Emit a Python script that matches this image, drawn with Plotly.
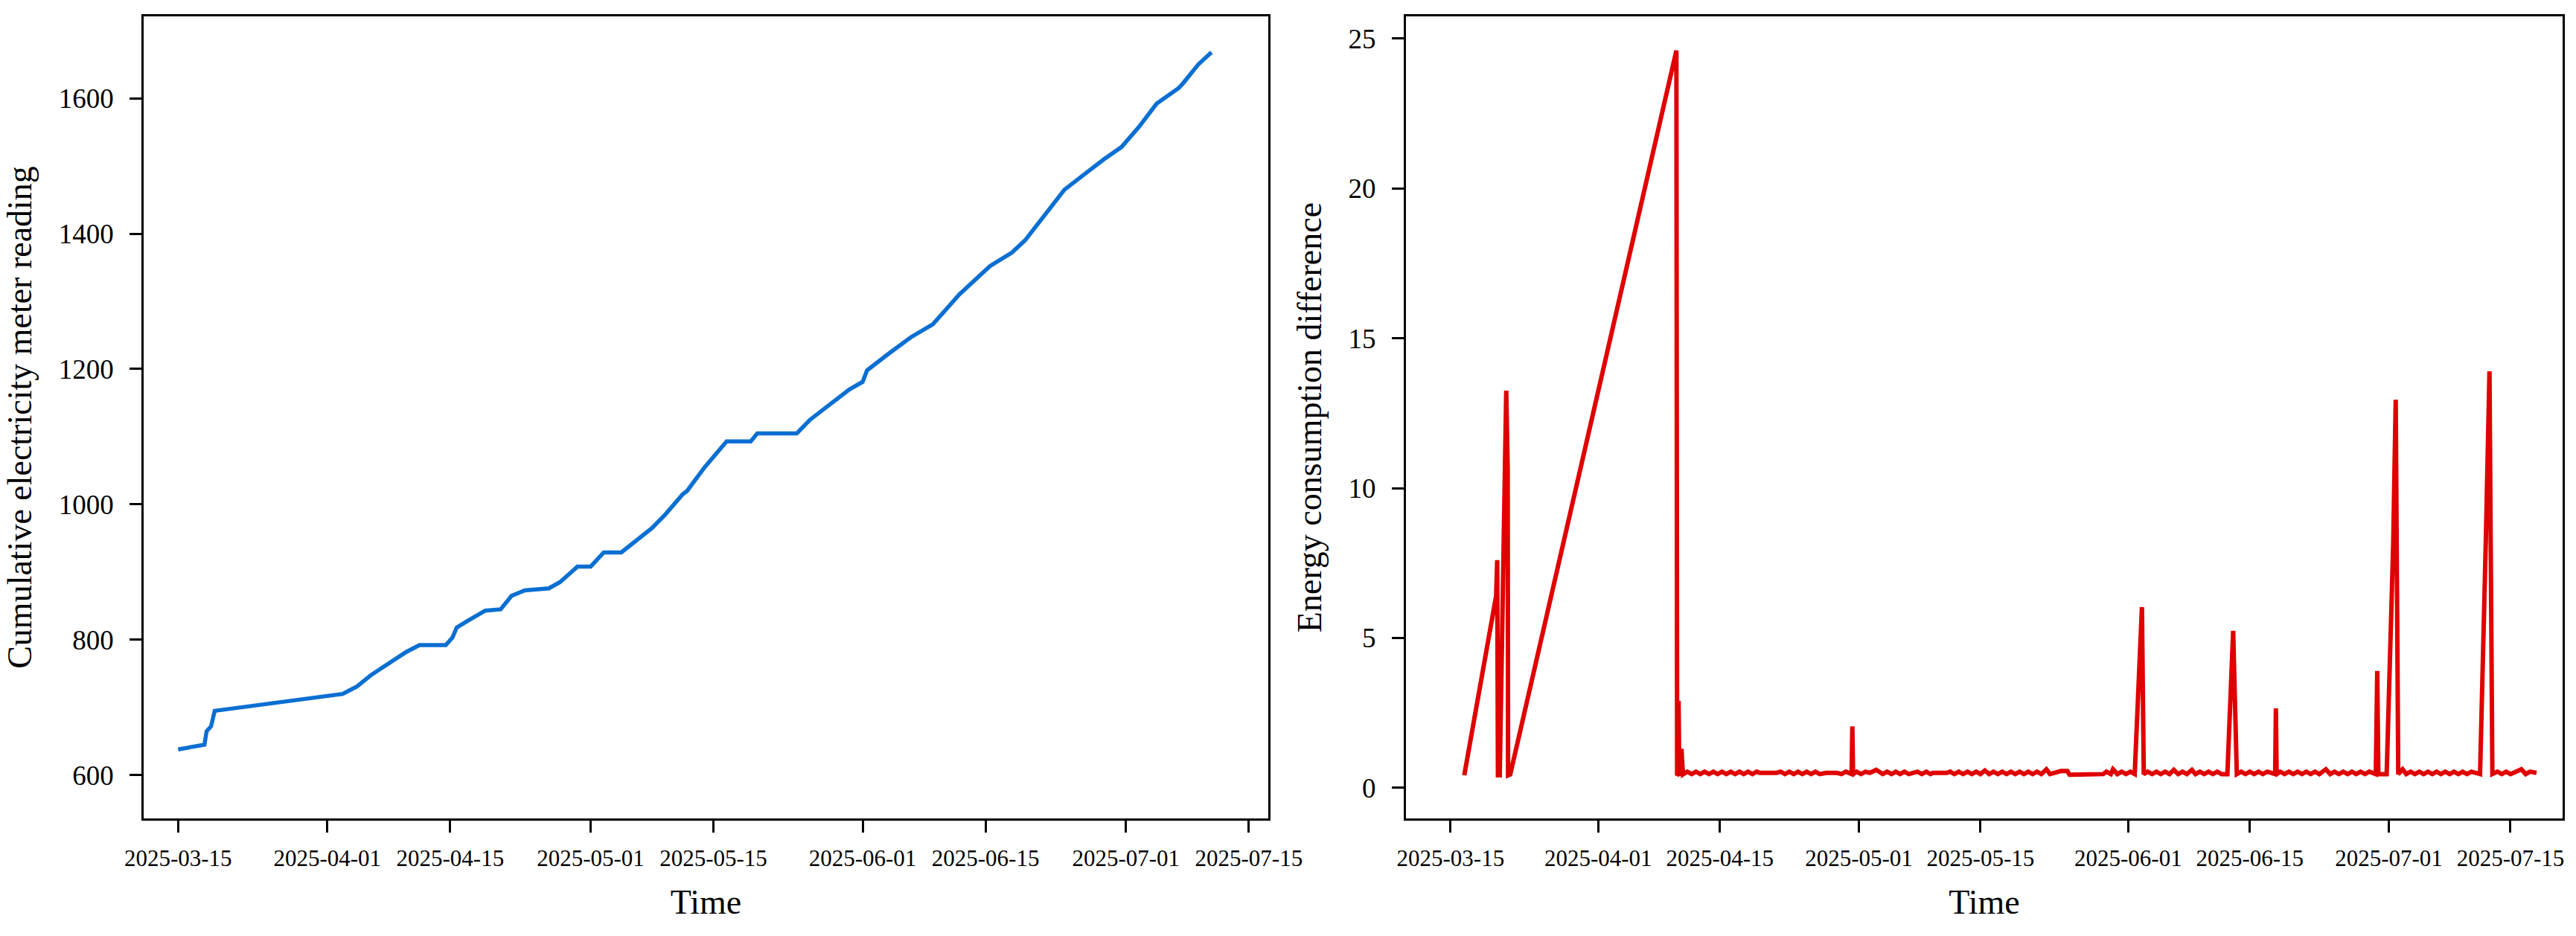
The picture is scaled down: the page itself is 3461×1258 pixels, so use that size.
import pandas as pd
import plotly.graph_objects as go

# ---- left panel: cumulative meter reading ----
meter_times = [
    "03-15 00", "03-18 00", "03-18 06", "03-18 18", "03-19 04", "04-02 18",
    "04-03 12", "04-04 09", "04-06 00", "04-08 00", "04-10 00", "04-11 12",
    "04-14 12", "04-15 06", "04-15 18", "04-17 00", "04-19 00", "04-20 18",
    "04-22 00", "04-23 12", "04-26 06", "04-27 12", "04-28 12", "04-29 12",
    "05-01 00", "05-02 12", "05-04 12", "05-06 12", "05-08 00", "05-09 12",
    "05-11 12", "05-12 00", "05-14 00", "05-16 12", "05-19 06", "05-20 00",
    "05-24 12", "05-26 00", "05-28 00", "05-30 12", "06-01 00", "06-01 12",
    "06-04 00", "06-06 12", "06-09 00", "06-12 00", "06-15 12", "06-18 00",
    "06-19 12", "06-22 00", "06-24 00", "06-26 12", "06-28 12", "06-30 12",
    "07-02 12", "07-04 12", "07-07 00", "07-07 12", "07-09 06", "07-10 18",
]
meter_values = [
    638, 645, 665, 672, 695, 720,
    725, 731, 748, 765, 782, 792,
    792, 803, 818, 828, 843, 845,
    865, 873, 876, 885, 897, 908,
    908, 929, 929, 950, 965, 985,
    1015, 1020, 1055, 1093, 1093, 1105,
    1105, 1125, 1145, 1170, 1181, 1198,
    1223, 1247, 1266, 1310, 1352, 1372,
    1390, 1432, 1465, 1490, 1510, 1528,
    1558, 1592, 1615, 1622, 1650, 1668,
]

# ---- right panel: energy consumption difference ----
diff_times = [
    # early readings and the long gap
    "03-16 14", "03-20 06", "03-20 09", "03-20 11", "03-20 16", "03-21 10",
    "03-21 14", "03-21 15", "03-21 21", "04-10 00", "04-10 02", "04-10 05",
    "04-10 06", "04-10 08", "04-10 13", "04-10 14", "04-10 18",
    # April
    "04-11 06", "04-11 18", "04-12 06", "04-12 18", "04-13 06", "04-13 18",
    "04-14 06", "04-14 18", "04-15 06", "04-15 18", "04-16 06", "04-16 18",
    "04-17 06", "04-17 18", "04-18 06", "04-18 18", "04-19 06", "04-19 14",
    "04-21 12", "04-22 00", "04-22 12", "04-23 00", "04-23 12", "04-24 00",
    "04-24 12", "04-25 00", "04-25 12", "04-26 00", "04-26 12", "04-27 06",
    "04-28 12", "04-29 00", "04-29 12", "04-30 04", "04-30 06", "04-30 08",
    "04-30 18",
    # May
    "05-01 06", "05-01 18", "05-02 06", "05-03 00", "05-03 18", "05-04 06",
    "05-04 18", "05-05 06", "05-05 18", "05-06 06", "05-06 18", "05-07 06",
    "05-07 18", "05-08 06", "05-08 18", "05-09 06", "05-09 12", "05-11 03",
    "05-11 12", "05-12 00", "05-12 12", "05-13 00", "05-13 12", "05-14 00",
    "05-14 12", "05-15 00", "05-15 12", "05-16 00", "05-16 12", "05-17 00",
    "05-17 12", "05-18 00", "05-18 12", "05-19 00", "05-19 12", "05-20 00",
    "05-20 12", "05-21 00", "05-21 12", "05-22 00", "05-22 14", "05-23 00",
    "05-24 06", "05-25 00", "05-25 06", "05-29 03", "05-29 12", "05-30 00",
    "05-30 06", "05-30 18", "05-31 06", "05-31 18",
    # June
    "06-01 06", "06-01 18", "06-02 14", "06-02 19", "06-03 06", "06-03 18",
    "06-04 06", "06-04 18", "06-05 06", "06-05 18", "06-06 06", "06-06 18",
    "06-07 06", "06-07 18", "06-08 08", "06-08 18", "06-09 06", "06-09 18",
    "06-10 06", "06-10 18", "06-11 06", "06-11 18", "06-12 10", "06-13 02",
    "06-13 12", "06-14 00", "06-14 12", "06-15 00", "06-15 12", "06-16 00",
    "06-16 12", "06-17 00", "06-17 22", "06-18 00", "06-18 02", "06-18 12",
    "06-19 00", "06-19 12", "06-20 00", "06-20 12", "06-21 00", "06-21 12",
    "06-22 00", "06-22 12", "06-23 00", "06-23 18", "06-24 06", "06-24 18",
    "06-25 06", "06-25 18", "06-26 06", "06-26 18", "06-27 06", "06-27 18",
    "06-28 06", "06-28 18", "06-29 12", "06-29 16", "06-29 19", "06-30 18",
    # July
    "07-01 12", "07-01 19", "07-02 02", "07-02 14", "07-03 00", "07-03 12",
    "07-04 00", "07-04 12", "07-05 00", "07-05 12", "07-06 00", "07-06 12",
    "07-07 00", "07-07 12", "07-08 00", "07-08 12", "07-09 00", "07-09 12",
    "07-10 00", "07-10 12", "07-11 12", "07-12 04", "07-12 14", "07-12 22",
    "07-13 12", "07-14 00", "07-14 12", "07-15 00", "07-15 12", "07-16 06",
    "07-16 18", "07-17 06", "07-18 00",
]
diff_values = [
    0.42, 6.4, 7.6, 0.42, 0.42, 13.25,
    10.6, 0.42, 0.45, 24.6, 0.42, 0.45,
    2.9, 0.45, 0.5, 1.3, 0.45,
    0.54, 0.46, 0.54, 0.46, 0.54, 0.46,
    0.54, 0.46, 0.54, 0.46, 0.54, 0.46,
    0.54, 0.46, 0.54, 0.46, 0.54, 0.5,
    0.5, 0.54, 0.46, 0.54, 0.46, 0.54,
    0.46, 0.54, 0.46, 0.54, 0.46, 0.5,
    0.5, 0.46, 0.54, 0.46, 2.05, 0.46,
    0.54,
    0.46, 0.54, 0.5, 0.6, 0.46, 0.54,
    0.46, 0.54, 0.46, 0.54, 0.46, 0.5,
    0.54, 0.46, 0.54, 0.46, 0.5, 0.5,
    0.54, 0.46, 0.54, 0.46, 0.54, 0.46,
    0.54, 0.46, 0.58, 0.46, 0.54, 0.46,
    0.54, 0.46, 0.54, 0.46, 0.54, 0.46,
    0.54, 0.46, 0.54, 0.46, 0.62, 0.46,
    0.56, 0.56, 0.44, 0.46, 0.54, 0.46,
    0.62, 0.46, 0.54, 0.46,
    0.54, 0.46, 6.03, 0.46, 0.54, 0.46,
    0.54, 0.46, 0.54, 0.46, 0.6, 0.46,
    0.54, 0.46, 0.6, 0.46, 0.54, 0.46,
    0.54, 0.46, 0.54, 0.46, 0.46, 5.24,
    0.46, 0.54, 0.46, 0.54, 0.46, 0.54,
    0.46, 0.54, 0.46, 2.65, 0.46, 0.54,
    0.46, 0.54, 0.46, 0.54, 0.46, 0.54,
    0.46, 0.54, 0.46, 0.62, 0.46, 0.54,
    0.46, 0.54, 0.46, 0.54, 0.46, 0.54,
    0.46, 0.54, 0.46, 3.9, 0.46, 0.46,
    8.1, 12.95, 0.46, 0.62, 0.46, 0.54,
    0.46, 0.54, 0.46, 0.54, 0.46, 0.54,
    0.46, 0.54, 0.46, 0.54, 0.46, 0.54,
    0.46, 0.54, 0.46, 8.3, 13.9, 0.46,
    0.54, 0.46, 0.54, 0.46, 0.54, 0.62,
    0.46, 0.54, 0.5,
]

date_ticks = ["2025-03-15", "2025-04-01", "2025-04-15", "2025-05-01", "2025-05-15",
              "2025-06-01", "2025-06-15", "2025-07-01", "2025-07-15"]
meter_ticks = [600, 800, 1000, 1200, 1400, 1600]
diff_ticks = [0, 5, 10, 15, 20, 25]


def to_ts(labels):
    return pd.to_datetime(["2025-" + s + ":00" for s in labels])


FONT = "Liberation Serif, Times New Roman, serif"
TITLE_FONT = dict(family=FONT, size=46, color="black")

fig = go.Figure()

fig.add_trace(go.Scatter(
    x=to_ts(meter_times), y=meter_values,
    mode="lines", line=dict(color="#0A6FD2", width=5.5),
    xaxis="x", yaxis="y", showlegend=False,
))
fig.add_trace(go.Scatter(
    x=to_ts(diff_times), y=diff_values,
    mode="lines", line=dict(color="#E00000", width=6),
    xaxis="x2", yaxis="y2", showlegend=False,
))

# automargin must stay off, otherwise plotly shrinks the fixed domains
axis_style = dict(
    showline=True, linecolor="black", linewidth=3, mirror=True,
    ticks="outside", ticklen=16, tickwidth=3, tickcolor="black",
    showgrid=False, zeroline=False, automargin=False,
)
x_style = dict(axis_style, tickvals=pd.to_datetime(date_ticks),
               ticktext=date_ticks, ticklabelstandoff=8,
               tickfont=dict(family=FONT, size=31, color="black"))
y_style = dict(axis_style, ticklabelstandoff=14,
               tickfont=dict(family=FONT, size=37, color="black"))

fig.update_layout(
    width=3461, height=1258, autosize=False,
    margin=dict(l=0, r=0, t=0, b=0, pad=0),
    paper_bgcolor="white", plot_bgcolor="white",
    xaxis=dict(x_style, domain=[0.0558, 0.4923],
               range=["2025-03-11 02:00", "2025-07-17 05:00"],
               title=dict(text="Time", standoff=26, font=TITLE_FONT)),
    yaxis=dict(y_style, domain=[0.1256, 0.9825], range=[536, 1721],
               tickvals=meter_ticks,
               title=dict(text="Cumulative electricity meter reading",
                          standoff=22, font=TITLE_FONT)),
    xaxis2=dict(x_style, domain=[0.5458, 0.9948], anchor="y2",
                range=["2025-03-09 21:00", "2025-07-21 00:00"],
                title=dict(text="Time", standoff=26, font=TITLE_FONT)),
    yaxis2=dict(y_style, domain=[0.1256, 0.9825], anchor="x2",
                range=[-1.02, 25.74], tickvals=diff_ticks,
                title=dict(text="Energy consumption difference",
                           standoff=22, font=TITLE_FONT)),
)

fig.write_html("out.html", config={"displayModeBar": False},
               post_script="document.body.style.margin='0';")
